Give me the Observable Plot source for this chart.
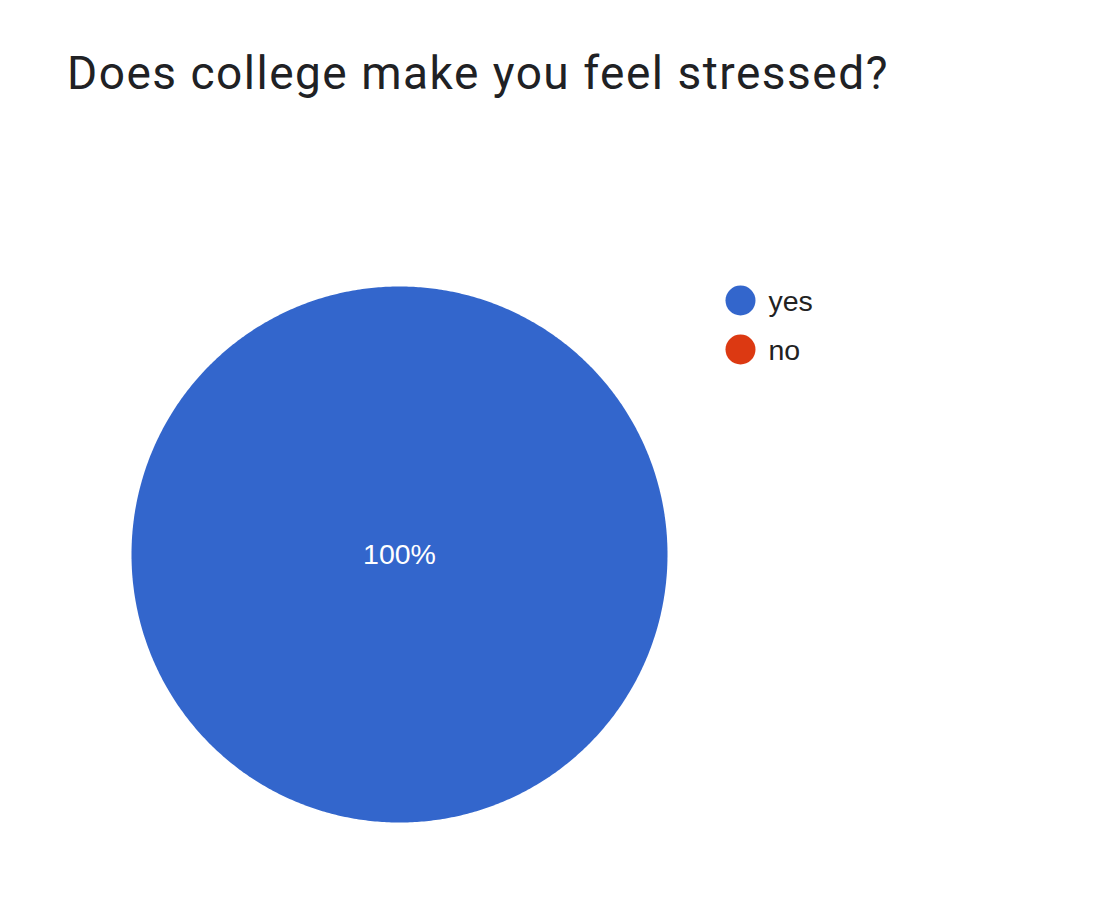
<!DOCTYPE html>
<html>
<head>
<meta charset="utf-8">
<script src="https://cdn.jsdelivr.net/npm/d3@7"></script>
<script src="https://cdn.jsdelivr.net/npm/@observablehq/plot@0.6"></script>
<style>
  html, body { margin: 0; padding: 0; background: #fff; }
  #wrap { width: 1110px; height: 912px; position: relative; overflow: hidden; }
  #title { position: absolute; left: 67px; top: 46px; font-family: Roboto, "Open Sans", sans-serif; font-size: 46px; color: #202124; white-space: nowrap; letter-spacing: 1.5px; }
  #chart { position: absolute; left: 0; top: 120px; }
</style>
</head>
<body>
<div id="wrap">
  <div id="title">Does college make you feel stressed?</div>
  <div id="chart"></div>
</div>
<script>
// Data
const categories = ["yes", "no"];
const values = [100, 0];
const colors = ["#3366cc", "#dc3912"];

// Layout
const W = 1110, H = 792;
const cx = 399, cy = 434, R = 268;
const legendX = 740, legendY0 = 180, legendStep = 49;

const total = d3.sum(values);
const arcs = d3.pie().sort(null).startAngle(0).endAngle(2 * Math.PI)(values);

const slicePts = [];
const labels = [];
arcs.forEach((a, i) => {
  if (a.value <= 0) return;
  const full = (a.endAngle - a.startAngle) >= 2 * Math.PI - 1e-9;
  if (!full) slicePts.push({cat: categories[i], x: cx, y: cy});
  const n = Math.max(2, Math.ceil((a.endAngle - a.startAngle) / (Math.PI / 360)));
  for (let k = 0; k <= n; k++) {
    const t = a.startAngle + (a.endAngle - a.startAngle) * k / n;
    slicePts.push({cat: categories[i], x: cx + R * Math.sin(t), y: cy - R * Math.cos(t)});
  }
  const pct = Math.round(a.value / total * 100) + "%";
  if (full) labels.push({x: cx, y: cy, text: pct});
  else {
    const m = (a.startAngle + a.endAngle) / 2;
    labels.push({x: cx + R * 0.6 * Math.sin(m), y: cy - R * 0.6 * Math.cos(m), text: pct});
  }
});

const legend = categories.map((c, i) => ({cat: c, x: legendX, y: legendY0 + i * legendStep}));

const chart = Plot.plot({
  width: W,
  height: H,
  margin: 0,
  x: {domain: [0, W], range: [0, W], axis: null},
  y: {domain: [0, H], range: [0, H], axis: null},
  color: {domain: categories, range: colors},
  style: {fontFamily: "'Liberation Sans', Arial, sans-serif", background: "#fff"},
  marks: [
    Plot.line(slicePts, {x: "x", y: "y", z: "cat", fill: "cat", stroke: null, curve: "linear-closed"}),
    Plot.text(labels, {x: "x", y: "y", text: "text", fill: "#fff", fontSize: 28.5, textAnchor: "middle"}),
    Plot.dot(legend, {x: "x", y: "y", fill: "cat", r: 15, stroke: null}),
    Plot.text(legend, {x: d => d.x + 28, y: d => d.y + 1, text: "cat", fill: "#222", fontSize: 28.5, textAnchor: "start"})
  ]
});
document.getElementById("chart").appendChild(chart);
</script>
</body>
</html>
